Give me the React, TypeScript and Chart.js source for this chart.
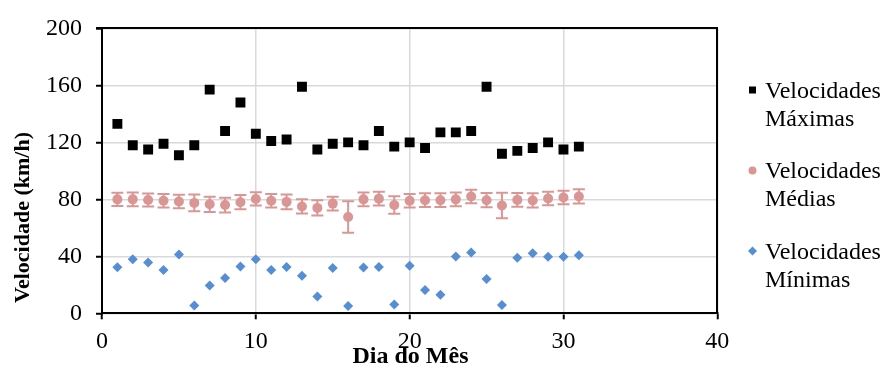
import React, { useEffect, useRef } from "react";
import { Chart, registerables } from "chart.js";

Chart.register(...registerables);

const days = [1, 2, 3, 4, 5, 6, 7, 8, 9, 10, 11, 12, 13, 14, 15, 16, 17, 18, 19, 20, 21, 22, 23, 24, 25, 26, 27, 28, 29, 30, 31];
const maxSpeed = [133, 118, 115, 119, 111, 118, 157, 128, 148, 126, 121, 122, 159, 115, 119, 120, 118, 128, 117, 120, 116, 127, 127, 128, 159, 112, 114, 116, 120, 115, 117];
const meanSpeed = [80, 80, 79.5, 79, 78.5, 77.5, 76.5, 76, 78, 80.3, 79, 78.2, 75, 74, 77, 67.6, 80, 80.5, 76, 79, 79.4, 79.4, 80, 82, 79.4, 75.7, 79.6, 79.2, 80.6, 81.3, 82];
const meanErr = [4.7, 4.8, 4.6, 4.7, 4.7, 5.9, 5.4, 5.2, 5, 4.7, 4.8, 5.2, 5, 5.4, 4.8, 11, 4.8, 4.8, 6.1, 4.8, 4.8, 4.8, 4.8, 4.7, 5, 8.9, 4.8, 5, 4.8, 4.8, 5];
const minSpeed = [32.3, 38, 35.7, 30.4, 41.3, 5.5, 19.6, 24.7, 32.8, 38, 30.4, 32.5, 26.3, 11.8, 31.8, 5.1, 32.1, 32.5, 6.2, 33.3, 16.4, 13.1, 39.9, 42.7, 24, 5.8, 39, 42.2, 39.7, 39.7, 40.8];

const xTicks = [0, 10, 20, 30, 40];
const yTicks = [0, 40, 80, 120, 160, 200];

const legendLabels = [
  ["Velocidades", "Máximas"],
  ["Velocidades", "Médias"],
  ["Velocidades", "Mínimas"],
];
const xTitle = "Dia do Mês";
const yTitle = "Velocidade (km/h)";

const COLOR_MAX = "#000000";
const COLOR_MEAN = "#DA9694";
const COLOR_MIN = "#558ED5";
const FONT = "'Liberation Serif', 'Times New Roman', serif";

export default function App() {
  const ref = useRef<HTMLCanvasElement | null>(null);

  useEffect(() => {
    document.body.style.margin = "0";
    const canvas = ref.current;
    if (!canvas) return;

    const framePlugin = {
      id: "frameAndErrors",
      beforeDraw(chart: any) {
        const { ctx } = chart;
        ctx.save();
        ctx.fillStyle = "#000";
        ctx.textAlign = "center";
        ctx.textBaseline = "alphabetic";
        ctx.font = `bold 24px ${FONT}`;
        ctx.fillText(xTitle, 410.5, 363);
        ctx.restore();
      },
      beforeDatasetsDraw(chart: any) {
        const { ctx, chartArea } = chart;
        const xs = chart.scales.x;
        const ys = chart.scales.y;
        ctx.save();
        ctx.strokeStyle = "#000";
        ctx.lineWidth = 2;
        ctx.beginPath();
        ctx.moveTo(chartArea.left - 6, Math.round(chartArea.top));
        ctx.lineTo(Math.round(chartArea.right), Math.round(chartArea.top));
        ctx.lineTo(Math.round(chartArea.right), chartArea.bottom);
        ctx.stroke();
        ctx.strokeStyle = COLOR_MEAN;
        ctx.lineWidth = 2;
        for (let i = 0; i < days.length; i++) {
          const px = xs.getPixelForValue(days[i]);
          const top = ys.getPixelForValue(meanSpeed[i] + meanErr[i]);
          const bot = ys.getPixelForValue(meanSpeed[i] - meanErr[i]);
          ctx.beginPath();
          ctx.moveTo(px, top);
          ctx.lineTo(px, bot);
          ctx.moveTo(px - 6, top);
          ctx.lineTo(px + 6, top);
          ctx.moveTo(px - 6, bot);
          ctx.lineTo(px + 6, bot);
          ctx.stroke();
        }
        ctx.restore();
      },
      afterDraw(chart: any) {
        const { ctx } = chart;
        ctx.save();
        ctx.fillStyle = "#000";
        ctx.textAlign = "center";
        ctx.textBaseline = "alphabetic";
        ctx.font = `bold 22px ${FONT}`;
        ctx.save();
        ctx.translate(28.5, 217.5);
        ctx.rotate(-Math.PI / 2);
        ctx.fillText(yTitle, 0, 0);
        ctx.restore();
        ctx.font = `24px ${FONT}`;
        ctx.textAlign = "left";
        const baseYs = [97.5, 178, 259];
        const markerYs = [90, 170.5, 251];
        const mx = 752.5;
        baseYs.forEach((by, i) => {
          ctx.fillStyle = "#000";
          ctx.fillText(legendLabels[i][0], 765, by);
          ctx.fillText(legendLabels[i][1], 765, by + 28);
          const my = markerYs[i];
          ctx.beginPath();
          if (i === 0) {
            ctx.fillStyle = COLOR_MAX;
            ctx.fillRect(mx - 3.5, my - 3.5, 7, 7);
          } else if (i === 1) {
            ctx.fillStyle = COLOR_MEAN;
            ctx.arc(mx, my, 4, 0, Math.PI * 2);
            ctx.fill();
          } else {
            ctx.fillStyle = COLOR_MIN;
            ctx.moveTo(mx - 4.5, my);
            ctx.lineTo(mx, my - 4.5);
            ctx.lineTo(mx + 4.5, my);
            ctx.lineTo(mx, my + 4.5);
            ctx.closePath();
            ctx.fill();
          }
        });
        ctx.restore();
      },
    };

    const tickFont = { family: FONT, size: 24 };

    const chart = new Chart(canvas, {
      type: "scatter",
      data: {
        datasets: [
          {
            label: "Velocidades Máximas",
            data: days.map((d, i) => ({ x: d, y: maxSpeed[i] })),
            pointStyle: "rect",
            radius: 7,
            borderWidth: 0,
            backgroundColor: COLOR_MAX,
            borderColor: COLOR_MAX,
          },
          {
            label: "Velocidades Médias",
            data: days.map((d, i) => ({ x: d, y: meanSpeed[i] })),
            pointStyle: "circle",
            radius: 5,
            borderWidth: 0,
            backgroundColor: COLOR_MEAN,
            borderColor: COLOR_MEAN,
          },
          {
            label: "Velocidades Mínimas",
            data: days.map((d, i) => ({ x: d, y: minSpeed[i] })),
            pointStyle: "rectRot",
            radius: 5,
            borderWidth: 0,
            backgroundColor: COLOR_MIN,
            borderColor: COLOR_MIN,
          },
        ],
      },
      options: {
        animation: false,
        responsive: false,
        events: [],
        layout: { padding: { top: 23.3, right: 165.7, left: 0, bottom: 0 } },
        plugins: { legend: { display: false }, tooltip: { enabled: false }, title: { display: false } },
        scales: {
          x: {
            type: "linear",
            min: 0,
            max: 40,
            afterBuildTicks(scale: any) {
              scale.ticks = xTicks.map((v) => ({ value: v }));
            },
            afterFit(scale: any) {
              scale.height = 372 - 313.3;
            },
            ticks: { font: tickFont, color: "#000", padding: 8, maxRotation: 0, autoSkip: false },
            grid: { color: "#d9d9d9", lineWidth: 1.5, tickColor: "#000", tickLength: 6, tickWidth: 2 },
            border: { color: "#000", width: 2 },
          },
          y: {
            type: "linear",
            min: 0,
            max: 200,
            afterBuildTicks(scale: any) {
              scale.ticks = yTicks.map((v) => ({ value: v }));
            },
            afterFit(scale: any) {
              scale.width = 102;
            },
            ticks: { font: tickFont, color: "#000", padding: 14, autoSkip: false },
            grid: { color: "#d9d9d9", lineWidth: 1.5, tickColor: "#000", tickLength: 6, tickWidth: 2 },
            border: { color: "#000", width: 2 },
          },
        },
      },
      plugins: [framePlugin],
    } as any);

    return () => chart.destroy();
  }, []);

  return (
    <div style={{ width: 883, height: 372, background: "#fff" }}>
      <canvas ref={ref} width={883} height={372} style={{ display: "block" }} />
    </div>
  );
}
